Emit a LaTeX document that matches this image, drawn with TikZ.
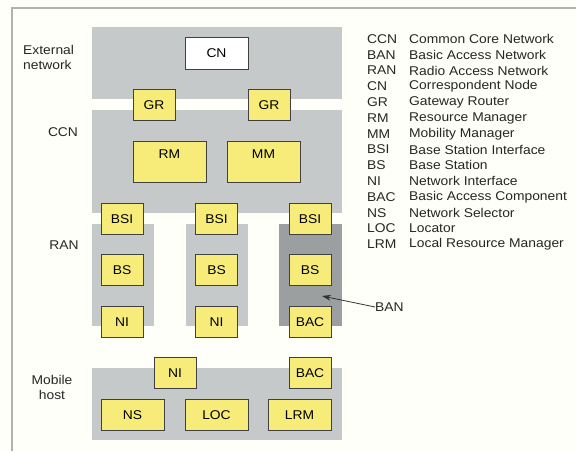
\documentclass[tikz,border=0pt]{standalone}
\usepackage{fontspec}
\setmainfont{Liberation Sans}[FakeStretch=1.09]
\usetikzlibrary{arrows.meta}
\definecolor{boxyellow}{RGB}{247,236,122}
\definecolor{bandgray}{RGB}{198,201,201}
\definecolor{banddark}{RGB}{156,159,159}
\definecolor{papercream}{RGB}{255,255,249}
\begin{document}
\begin{tikzpicture}[x=1pt, y=-1pt,
    font=\fontsize{12.7}{15}\selectfont,
    blk/.style={draw=black!75, fill=boxyellow, line width=0.8pt, inner sep=0pt,
                minimum width=42pt, minimum height=31pt, text height=9pt, text depth=0pt},
    wideblk/.style={blk, minimum width=63pt},
    bigblk/.style={blk, minimum width=73pt, minimum height=41pt},
    lbl/.style={text=black!85, inner sep=0pt}]
    \useasboundingbox (0,0) rectangle (576,451);
    \fill[papercream] (0,0) rectangle (576,451);
    \draw[black!30, line width=2pt] (12,451) -- (12,7.5) -- (576,7.5);

    % External network
    \fill[bandgray] (92,27) rectangle (342,99);
    \node[lbl, anchor=west, align=left] (extlbl) at (23,57.5) {External\\network};
    \node[blk, fill=white, minimum width=63pt, minimum height=32pt] (cn) at (216.5,53) {CN};

    % CCN
    \fill[bandgray] (92,110) rectangle (342,213);
    \node[lbl] (ccnlbl) at (63,132) {CCN};
    \node[blk] (gr1) at (154,104.5) {GR};
    \node[blk] (gr2) at (269,104.5) {GR};
    \node[bigblk, label={[anchor=north, inner sep=8.5pt]north:RM}] (rm) at (169.5,161.5) {};
    \node[bigblk, label={[anchor=north, inner sep=8.5pt]north:MM}] (mm) at (263.5,161.5) {};

    % RAN
    \fill[bandgray] (92,224) rectangle (154,326);
    \fill[bandgray] (186,224) rectangle (248,326);
    \fill[banddark] (279,224) rectangle (342,326);
    \node[lbl] (ranlbl) at (64,245) {RAN};
    \foreach \i/\x/\low in {1/122/NI, 2/216.5/NI, 3/310/BAC} {
        \node[blk] (bsi\i) at (\x,218.5) {BSI};
        \node[blk] (bs\i) at (\x,270) {BS};
        \node[blk] (low\i) at (\x,321.5) {\low};
    }

    % BAN arrow
    \node[lbl, anchor=west] (ban) at (375,307) {BAN};
    \coordinate (bantip) at (322,296);
    \draw[-{Stealth[length=9pt, width=6pt]}, line width=0.8pt, black!80] (ban.west) -- (bantip);

    % Mobile host
    \fill[bandgray] (92,368) rectangle (342,440);
    \node[lbl, align=center] (mhlbl) at (52,387) {Mobile\\host};
    \node[blk] (mhni) at (175,373) {NI};
    \node[blk] (mhbac) at (310,373) {BAC};
    \node[wideblk] (ns) at (132.5,414.5) {NS};
    \node[wideblk] (loc) at (216.5,414.5) {LOC};
    \node[wideblk] (lrm) at (299.5,414.5) {LRM};

    % Legend
    \foreach \ab/\txt [count=\k from 0] in {CCN/Common Core Network, BAN/Basic Access Network,
        RAN/Radio Access Network, CN/Correspondent Node, GR/Gateway Router,
        RM/Resource Manager, MM/Mobility Manager, BSI/Base Station Interface,
        BS/Base Station, NI/Network Interface, BAC/Basic Access Component,
        NS/Network Selector, LOC/Locator, LRM/Local Resource Manager} {
        \node[lbl, anchor=west] (ab\k) at (367,39+15.8*\k) {\ab};
        \node[lbl, anchor=west] (txt\k) at (409,39+15.8*\k) {\txt};
    }
\end{tikzpicture}
\end{document}
